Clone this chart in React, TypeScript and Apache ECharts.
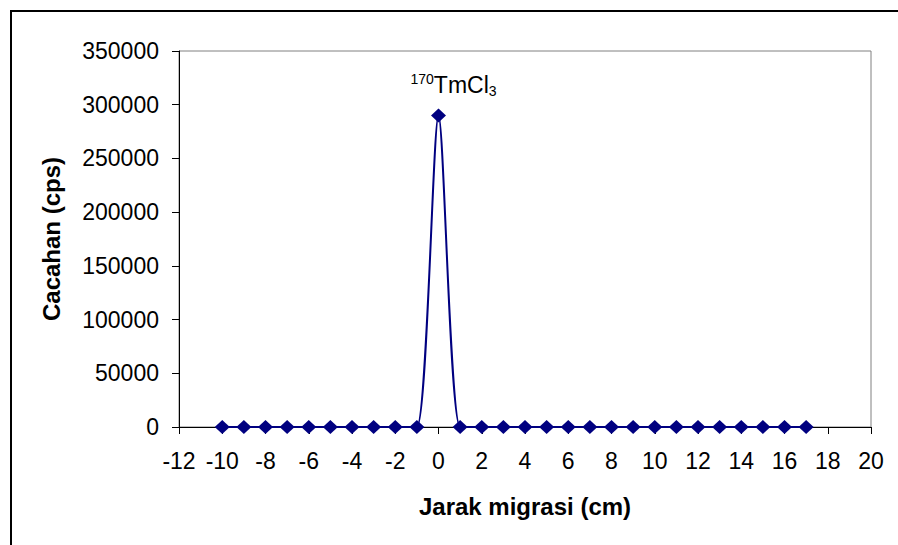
import React, { useEffect, useRef } from "react";
import * as echarts from "echarts";

const distances = [-10, -9, -8, -7, -6, -5, -4, -3, -2, -1, 0, 1, 2, 3, 4, 5, 6, 7, 8, 9, 10, 11, 12, 13, 14, 15, 16, 17];
const counts = [0, 0, 0, 0, 0, 0, 0, 0, 0, 0, 290000, 0, 0, 0, 0, 0, 0, 0, 0, 0, 0, 0, 0, 0, 0, 0, 0, 0];
const peakLabel = "{sup|170}{main|TmCl}{sub|3}";
const xTitle = "Jarak migrasi (cm)";
const yTitle = "Cacahan (cps)";

const FONT = "'Liberation Sans', Arial, sans-serif";

export default function App() {
  const ref = useRef<HTMLDivElement>(null);
  useEffect(() => {
    if (!ref.current) return;
    const chart = echarts.init(ref.current, null, { renderer: "svg" });
    const peakIdx = counts.indexOf(Math.max(...counts));
    const data = distances.map((x, i) => {
      if (i === peakIdx) {
        return {
          value: [x, counts[i]],
          label: {
            show: true,
            position: "top",
            distance: 10,
            offset: [15, 0],
            formatter: peakLabel,
            rich: {
              sup: { fontSize: 14, fontFamily: FONT, color: "#000", padding: [0, 0, 12, 0] },
              main: { fontSize: 23, fontFamily: FONT, color: "#000" },
              sub: { fontSize: 14, fontFamily: FONT, color: "#000", padding: [12, 0, 0, 0] },
            },
          },
        };
      }
      return { value: [x, counts[i]] };
    });
    chart.setOption({
      animation: false,
      backgroundColor: "#ffffff",
      textStyle: { fontFamily: FONT },
      graphic: [
        {
          type: "rect",
          shape: { x: 11, y: 11, width: 1000, height: 1000 },
          style: { fill: "none", stroke: "#000", lineWidth: 2 },
          silent: true,
          z: 100,
        },
      ],
      grid: {
        left: 179,
        top: 51,
        right: 27,
        bottom: 118,
        show: true,
        borderColor: "#808080",
        borderWidth: 1,
        backgroundColor: "transparent",
      },
      xAxis: {
        type: "value",
        min: -12,
        max: 20,
        interval: 2,
        name: xTitle,
        nameLocation: "middle",
        nameGap: 67,
        nameTextStyle: { fontSize: 24, fontWeight: "bold", color: "#000", fontFamily: FONT },
        axisLine: { show: true, onZero: false, lineStyle: { color: "#000", width: 1 } },
        axisTick: { show: true, inside: false, length: 7, lineStyle: { color: "#000" } },
        axisLabel: { fontSize: 23, color: "#000", margin: 22, fontFamily: FONT },
        splitLine: { show: false },
      },
      yAxis: {
        type: "value",
        min: 0,
        max: 350000,
        interval: 50000,
        name: yTitle,
        nameLocation: "middle",
        nameGap: 116,
        nameRotate: 90,
        nameTextStyle: { fontSize: 24, fontWeight: "bold", color: "#000", fontFamily: FONT },
        axisLine: { show: true, onZero: false, lineStyle: { color: "#000", width: 1 } },
        axisTick: { show: true, inside: false, length: 7, lineStyle: { color: "#000" } },
        axisLabel: {
          fontSize: 23,
          color: "#000",
          margin: 20,
          fontFamily: FONT,
          formatter: (v: number) => String(v),
        },
        splitLine: { show: false },
      },
      series: [
        {
          type: "line",
          data,
          smooth: 0.25,
          symbol: "diamond",
          symbolSize: [15, 14],
          lineStyle: { color: "#000080", width: 2 },
          itemStyle: { color: "#000080" },
          clip: false,
        },
      ],
    });
    return () => chart.dispose();
  }, []);
  return (
    <div
      ref={ref}
      style={{ position: "fixed", left: 0, top: 0, width: 898, height: 545, background: "#fff" }}
    />
  );
}
